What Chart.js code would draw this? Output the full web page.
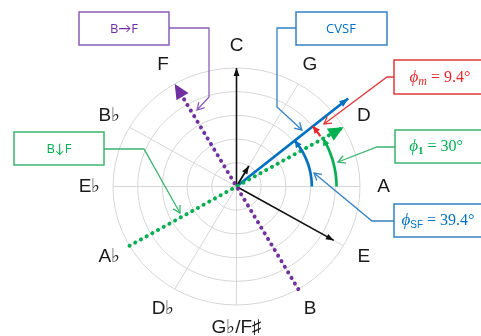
<!DOCTYPE html>
<html><head><meta charset="utf-8">
<script src="https://cdn.jsdelivr.net/npm/chart.js@4/dist/chart.umd.min.js"></script>
<style>html,body{margin:0;padding:0;background:#fff;}canvas{display:block;}</style>
</head><body>
<canvas id="c" width="481" height="336"></canvas>
<script>
// ---- data ----
const noteLabels = ['C','G','D','A','E','B','G\u266D/F\u266F','D\u266D','A\u266D','E\u266D','B\u266D','F'];
const noteAngles = [90,60,30,0,-30,-60,-90,-120,-150,180,150,120];
const ringRadii = [0.2,0.4,0.6,0.8,1.0];
const spokeAngles = [0,30,60,90,120,150,180,210,240,270,300,330];
const vectorNames = ['C','E','G','CVSF'];
const vectorAngles = [90,-30,60,39.4];
const vectorMagnitudes = [1.0,0.91,0.2,1.17];
const lineBtoFAngles = [-60,120];
const lineBtoFRadii = [1.0,1.0];
const lineBdownFAngles = [-150,30];
const lineBdownFRadii = [1.0,1.0];
const arcNames = ['phiSF','phi1','phim'];
const arcStartAngles = [0,0,32];
const arcEndAngles = [39.4,30,39.4];
const arcRadii = [0.61,0.81,0.80];

const toXY = (r,deg)=>({x:r*Math.cos(deg*Math.PI/180), y:r*Math.sin(deg*Math.PI/180)});

const C_PURPLE='#7030A0', C_GREEN='#00B050', C_BLUE='#0070C0', C_RED='#E8262A', C_BLACK='#111111';

const datasets = [];
datasets.push({label:'B→F', data: lineBtoFAngles.map((a,i)=>toXY(lineBtoFRadii[i],a)),
  borderColor:C_PURPLE, borderWidth:4, borderDash:[0.01,6.5], borderCapStyle:'round',
  arrow:{len:15, half:7, color:C_PURPLE}});
datasets.push({label:'B↓F', data: lineBdownFAngles.map((a,i)=>toXY(lineBdownFRadii[i],a)),
  borderColor:C_GREEN, borderWidth:4, borderDash:[0.01,6.5], borderCapStyle:'round',
  arrow:{len:15, half:7, color:C_GREEN}});
const vColors = [C_BLACK,C_BLACK,C_BLACK,C_BLUE];
const vWidths = [1.6,1.6,1.8,2.8];
vectorNames.forEach((n,i)=>{
  datasets.push({label:n, data:[{x:0,y:0}, toXY(vectorMagnitudes[i],vectorAngles[i])],
    borderColor:vColors[i], borderWidth:vWidths[i],
    arrow:{len:i===3?9:8, half:i===3?3.5:3, color:vColors[i]}});
});
datasets.forEach(d=>{d.showLine=true; d.pointRadius=0; d.clip=false; d.fill=false;});

function arrowHead(ctx, tx, ty, fx, fy, len, half, color){
  const a=Math.atan2(ty-fy, tx-fx);
  ctx.save(); ctx.fillStyle=color; ctx.beginPath();
  ctx.moveTo(tx,ty);
  ctx.lineTo(tx-len*Math.cos(a)+half*Math.sin(a), ty-len*Math.sin(a)-half*Math.cos(a));
  ctx.lineTo(tx-len*Math.cos(a)-half*Math.sin(a), ty-len*Math.sin(a)+half*Math.cos(a));
  ctx.closePath(); ctx.fill(); ctx.restore();
}
function openArrow(ctx, tx, ty, fx, fy, len, half, color, w){
  const a=Math.atan2(ty-fy, tx-fx);
  ctx.save(); ctx.strokeStyle=color; ctx.lineWidth=w; ctx.beginPath();
  ctx.moveTo(tx-len*Math.cos(a)+half*Math.sin(a), ty-len*Math.sin(a)-half*Math.cos(a));
  ctx.lineTo(tx,ty);
  ctx.lineTo(tx-len*Math.cos(a)-half*Math.sin(a), ty-len*Math.sin(a)+half*Math.cos(a));
  ctx.stroke(); ctx.restore();
}

const polarPlugin = {
  id:'polar',
  beforeDatasetsDraw(chart){
    const ctx=chart.ctx, xs=chart.scales.x, ys=chart.scales.y;
    const cx=xs.getPixelForValue(0), cy=ys.getPixelForValue(0);
    ctx.save(); ctx.strokeStyle='#d6d6d6'; ctx.lineWidth=1;
    ringRadii.forEach(r=>{
      ctx.beginPath();
      ctx.ellipse(cx,cy,xs.getPixelForValue(r)-cx, cy-ys.getPixelForValue(r),0,0,Math.PI*2);
      ctx.stroke();
    });
    const R=ringRadii[ringRadii.length-1];
    spokeAngles.forEach(a=>{
      const p=toXY(R,a);
      ctx.beginPath(); ctx.moveTo(cx,cy);
      ctx.lineTo(xs.getPixelForValue(p.x), ys.getPixelForValue(p.y)); ctx.stroke();
    });
    ctx.restore();
  },
  afterDatasetsDraw(chart){
    const ctx=chart.ctx, xs=chart.scales.x, ys=chart.scales.y;
    const P=(r,a)=>{const p=toXY(r,a); return [xs.getPixelForValue(p.x), ys.getPixelForValue(p.y)];};
    chart.data.datasets.forEach((d,i)=>{
      const m=chart.getDatasetMeta(i).data; const n=m.length;
      const t=m[n-1], f=m[n-2];
      arrowHead(ctx,t.x,t.y,f.x,f.y,d.arrow.len,d.arrow.half,d.arrow.color);
    });
    const arcColors=[C_BLUE,C_GREEN,C_RED], arcW=[2.6,2.6,2.2];
    arcNames.forEach((n,i)=>{
      ctx.save(); ctx.strokeStyle=arcColors[i]; ctx.lineWidth=arcW[i];
      ctx.beginPath();
      const steps=40; let last;
      for(let k=0;k<=steps;k++){
        const a=arcStartAngles[i]+(arcEndAngles[i]-arcStartAngles[i])*k/steps;
        const p=P(arcRadii[i],a);
        if(k===0) ctx.moveTo(p[0],p[1]); else ctx.lineTo(p[0],p[1]);
        last=p;
      }
      ctx.stroke(); ctx.restore();
      const pr=P(arcRadii[i],arcEndAngles[i]-(arcEndAngles[i]-arcStartAngles[i])*0.25);
      arrowHead(ctx,last[0],last[1],pr[0],pr[1],7,3.5,arcColors[i]);
    });
    ctx.save(); ctx.fillStyle='#1a1a1a'; ctx.font='19px "Liberation Sans", Arial, sans-serif';
    ctx.textAlign='center'; ctx.textBaseline='middle';
    noteLabels.forEach((l,i)=>{
      const p=P(1.19,noteAngles[i]);
      ctx.fillText(l,p[0],p[1]);
    });
    ctx.restore();
  },
  afterDraw(chart){
    const ctx=chart.ctx;
    function box(x,y,w,h,border){
      ctx.save(); ctx.fillStyle='#fff'; ctx.fillRect(x,y,w,h);
      ctx.strokeStyle=border; ctx.lineWidth=1.5; ctx.strokeRect(x,y,w,h); ctx.restore();
    }
    function conn(pts,color){
      ctx.save(); ctx.strokeStyle=color; ctx.lineWidth=1.3; ctx.beginPath();
      pts.forEach((p,i)=>i?ctx.lineTo(p[0],p[1]):ctx.moveTo(p[0],p[1])); ctx.stroke(); ctx.restore();
      const n=pts.length;
      openArrow(ctx,pts[n-1][0],pts[n-1][1],pts[n-2][0],pts[n-2][1],7,4,color,1.3);
    }
    function sansText(t,x,y,color){
      ctx.save(); ctx.fillStyle=color; ctx.font='13px "Open Sans", Lato, "Liberation Sans", sans-serif';
      ctx.textAlign='center'; ctx.textBaseline='middle'; ctx.fillText(t,x,y); ctx.restore();
    }
    function phiText(sub,subStyle,rest,x,y,color){
      ctx.save(); ctx.fillStyle=color; ctx.textBaseline='alphabetic'; ctx.textAlign='left';
      const f1='italic 17px "Liberation Serif", "DejaVu Serif", serif';
      const f2=subStyle;
      const f3='16px "Liberation Serif", "DejaVu Serif", serif';
      ctx.font=f1; const w1=ctx.measureText('\u03D5').width;
      ctx.font=f2; const w2=ctx.measureText(sub).width;
      ctx.font=f3; const w3=ctx.measureText(rest).width;
      let sx=x-(w1+w2+w3)/2;
      ctx.font=f1; ctx.fillText('\u03D5',sx,y+5); sx+=w1;
      ctx.font=f2; ctx.fillText(sub,sx,y+8); sx+=w2;
      ctx.font=f3; ctx.fillText(rest,sx,y+5);
      ctx.restore();
    }
    const BP='#8A5CB8', BG='#3CB46E', BB='#3481C2', BR='#E0393B';
    conn([[169,28],[209,28],[209,97],[197,110]],BP);
    box(79,12,90,33,BP); sansText('B\u2192F',124,29,C_PURPLE);
    conn([[104,149],[144,149],[180,213]],BG);
    box(14,132,90,33,BG); sansText('B\u2193F',59,149,C_GREEN);
    conn([[296,28],[277,28],[277,107],[302,130]],BB);
    box(296,12,91,33,BB); sansText('CVSF',341,29,C_BLUE);
    conn([[394,77],[387,77],[324,124]],BR);
    box(394,60,100,34,BR); phiText('m','italic 12px "Liberation Serif", serif',' = 9.4\u00B0',440,77,C_RED);
    conn([[395,147],[377,147],[338,162]],BG);
    box(395,130,100,33,BG); phiText('1','bold 11px "Liberation Serif", serif',' = 30\u00B0',436,146,C_GREEN);
    conn([[394,221],[372,221],[314,173]],BB);
    box(394,204,100,33,BB); phiText('SF','10px "Liberation Sans", sans-serif',' = 39.4\u00B0',438,220,C_BLUE);
  }
};

const cxPx=236.5, cyPx=186.5, rxPx=123.5, ryPx=118.5, W=481, H=336;
new Chart(document.getElementById('c'), {
  type:'scatter',
  data:{datasets},
  options:{
    responsive:false, animation:false, devicePixelRatio:1,
    layout:{padding:0},
    plugins:{legend:{display:false}, tooltip:{enabled:false}},
    scales:{
      x:{type:'linear', display:false, min:-cxPx/rxPx, max:(W-cxPx)/rxPx},
      y:{type:'linear', display:false, min:-(H-cyPx)/ryPx, max:cyPx/ryPx}
    }
  },
  plugins:[polarPlugin]
});
</script>
</body></html>
